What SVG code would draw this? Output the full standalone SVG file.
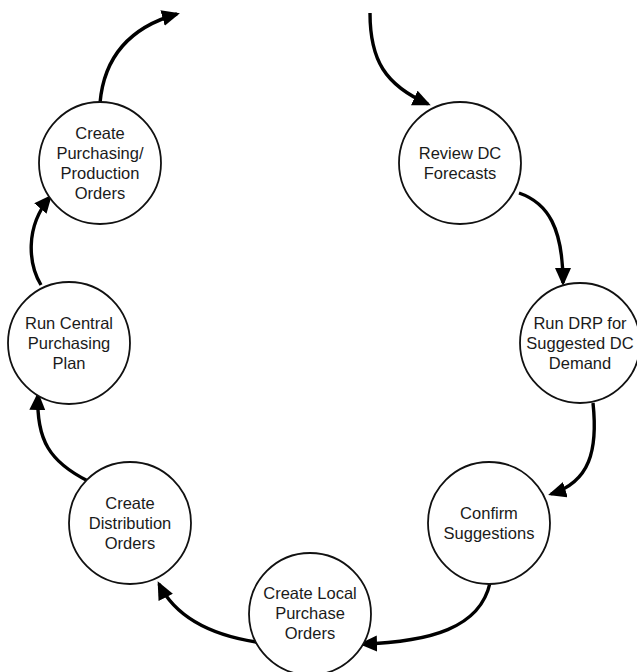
<svg xmlns="http://www.w3.org/2000/svg" width="637" height="672" viewBox="0 0 637 672">
<style>
.node circle{fill:#fff;stroke:#111;stroke-width:1.8}
.node text{font-family:"Liberation Sans",Arial,sans-serif;font-size:16.5px;fill:#1a1a1a;text-anchor:middle}
.conn path{fill:none;stroke:#000;stroke-width:3.4;marker-end:url(#ah)}
</style>
<defs>
<marker id="ah" markerUnits="userSpaceOnUse" markerWidth="19" markerHeight="17" refX="15" refY="8" orient="auto">
<path d="M0,0 L18,8 L0,16 z" fill="#000"/>
</marker>
</defs>
<rect width="637" height="672" fill="#fff"/>
<g class="conn" id="connectors">
<path d="M100,103 Q106,34 177,14"/>
<path d="M370,13 C370,60 385,85 428,104"/>
<path d="M519,193 C548,203 563,228 563,283"/>
<path d="M593,403 C598,450 590,482 551,494"/>
<path d="M490,583 C480,628 430,642 362,644"/>
<path d="M263,643 C210,636 175,616 159,584"/>
<path d="M88,481 C50,462 36,440 38,395"/>
<path d="M41,285 C29,265 24,228 50,197"/>
</g>
<g class="node" id="n-purchasing">
<circle cx="100" cy="163" r="61"/>
<text x="100" y="139">Create</text>
<text x="100" y="159">Purchasing/</text>
<text x="100" y="179">Production</text>
<text x="100" y="199">Orders</text>
</g>
<g class="node" id="n-review">
<circle cx="460" cy="163" r="61"/>
<text x="460" y="159">Review DC</text>
<text x="460" y="179">Forecasts</text>
</g>
<g class="node" id="n-central">
<circle cx="69" cy="343" r="61"/>
<text x="69" y="329">Run Central</text>
<text x="69" y="349">Purchasing</text>
<text x="69" y="369">Plan</text>
</g>
<g class="node" id="n-drp">
<circle cx="580" cy="343" r="60"/>
<text x="580" y="329">Run DRP for</text>
<text x="580" y="349">Suggested DC</text>
<text x="580" y="369">Demand</text>
</g>
<g class="node" id="n-distribution">
<circle cx="130" cy="523" r="61"/>
<text x="130" y="509">Create</text>
<text x="130" y="529">Distribution</text>
<text x="130" y="549">Orders</text>
</g>
<g class="node" id="n-confirm">
<circle cx="489" cy="523" r="61"/>
<text x="489" y="519">Confirm</text>
<text x="489" y="539">Suggestions</text>
</g>
<g class="node" id="n-local">
<circle cx="310" cy="614" r="61"/>
<text x="310" y="599">Create Local</text>
<text x="310" y="619">Purchase</text>
<text x="310" y="639">Orders</text>
</g>
</svg>
